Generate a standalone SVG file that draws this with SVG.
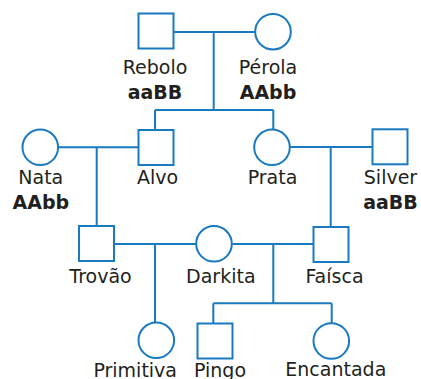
<svg xmlns="http://www.w3.org/2000/svg" width="421" height="379" viewBox="0 0 421 379">
<style>
.s{fill:#fff;stroke:#1a7abf;stroke-width:2}
.l{fill:none;stroke:#1a7abf;stroke-width:2}
text{font-family:"DejaVu Sans",Verdana,sans-serif;font-size:19px;fill:#231f20;text-anchor:middle}
.b{font-weight:bold}
</style>
<rect width="421" height="379" fill="#fff"/>
<g id="connectors">
<path class="l" d="M173.5 32H255M213.7 32V110M155 110H273.3M155 110V130M273.3 110V129.5"/>
<path class="l" d="M58.3 147.3H138.5M96.7 147.3V226M290 147H372.5M330.7 147V227"/>
<path class="l" d="M114.3 244H196M232.3 244H313.5M155 244V322.5M273.3 244V303.3M213.3 303.3H331.7M213.3 303.3V323.5M331.7 303.3V323.2"/>
</g>
<g id="rebolo"><rect class="s" x="138.5" y="13.5" width="35" height="35"/><text x="155" y="74">Rebolo</text><text class="b" x="155" y="99">aaBB</text></g>
<g id="perola"><circle class="s" cx="273" cy="31.7" r="17.8"/><text x="268" y="74">Pérola</text><text class="b" x="268" y="99">AAbb</text></g>
<g id="nata"><circle class="s" cx="40.3" cy="147.3" r="17.8"/><text x="40.8" y="184">Nata</text><text class="b" x="40.8" y="209">AAbb</text></g>
<g id="alvo"><rect class="s" x="138.5" y="130" width="35" height="35"/><text x="157.5" y="184">Alvo</text></g>
<g id="prata"><circle class="s" cx="272" cy="147.3" r="17.8"/><text x="272.5" y="184">Prata</text></g>
<g id="silver"><rect class="s" x="372.5" y="129.3" width="35" height="35"/><text x="390.5" y="184">Silver</text><text class="b" x="390.5" y="209">aaBB</text></g>
<g id="trovao"><rect class="s" x="79" y="226" width="35" height="35"/><text x="100.5" y="283">Trovão</text></g>
<g id="darkita"><circle class="s" cx="214" cy="243.8" r="17.8"/><text x="220.8" y="283">Darkita</text></g>
<g id="faisca"><rect class="s" x="313.5" y="227" width="35" height="35"/><text x="334.5" y="283">Faísca</text></g>
<g id="primitiva"><circle class="s" cx="156.3" cy="340.3" r="17.8"/><text x="135.2" y="377">Primitiva</text></g>
<g id="pingo"><rect class="s" x="197.5" y="323.5" width="35" height="35"/><text x="220" y="377">Pingo</text></g>
<g id="encantada"><circle class="s" cx="331.3" cy="341" r="17.8"/><text x="335.8" y="375.5">Encantada</text></g>
</svg>
